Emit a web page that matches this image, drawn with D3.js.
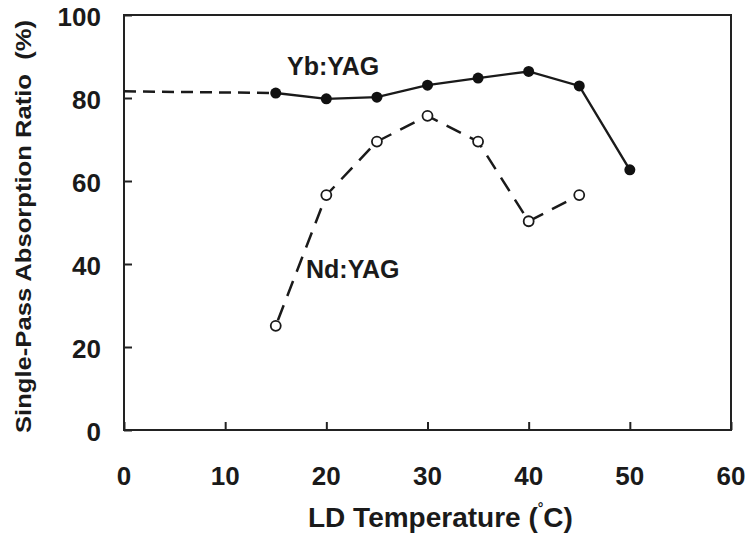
<!DOCTYPE html>
<html>
<head>
<meta charset="utf-8">
<script src="https://cdn.jsdelivr.net/npm/d3@7"></script>
<style>
  body { margin: 0; background: #fff; }
  svg text { font-family: "Liberation Sans", Arial, sans-serif; font-weight: bold; fill: #1a1a1a; }
</style>
</head>
<body>
<svg id="chart" width="745" height="537"></svg>
<script>
// data
const temps = [15, 20, 25, 30, 35, 40, 45, 50];
const ybValues = [81.2, 79.8, 80.2, 83.1, 84.8, 86.4, 82.9, 62.7];
const ndTemps = [15, 20, 25, 30, 35, 40, 45];
const ndValues = [25.1, 56.6, 69.5, 75.7, 69.5, 50.3, 56.6];
const ybExtrapolation = [[0, 81.6], [15, 81.2]];
const xTicks = [0, 10, 20, 30, 40, 50, 60];
const yTicks = [0, 20, 40, 60, 80, 100];

const svg = d3.select('#chart');
const pLeft = 124, pRight = 731, pTop = 15, pBottom = 430;

const x = d3.scaleLinear().domain([0, 60]).range([pLeft, pRight]);
const y = d3.scaleLinear().domain([0, 100]).range([pBottom, pTop]);

// frame
svg.append('rect')
  .attr('x', pLeft).attr('y', pTop)
  .attr('width', pRight - pLeft).attr('height', pBottom - pTop)
  .attr('fill', 'none').attr('stroke', '#222').attr('stroke-width', 2);

// axes, ticks pointing inward
const xAxis = svg.append('g').attr('transform', `translate(0,${pBottom})`)
  .call(d3.axisTop(x).tickValues(xTicks).tickSize(8).tickFormat(''));
const yAxis = svg.append('g').attr('transform', `translate(${pLeft},0)`)
  .call(d3.axisRight(y).tickValues(yTicks).tickSize(8).tickFormat(''));
[xAxis, yAxis].forEach(g => {
  g.select('.domain').remove();
  g.selectAll('line').attr('stroke', '#222').attr('stroke-width', 2);
});

// tick labels
svg.append('g').selectAll('text').data(xTicks).join('text')
  .attr('x', d => x(d)).attr('y', 485)
  .attr('text-anchor', 'middle').style('font-size', '26px')
  .text(d => d);
svg.append('g').selectAll('text').data(yTicks).join('text')
  .attr('x', 101).attr('y', d => y(d) + 11)
  .attr('text-anchor', 'end').style('font-size', '26px')
  .text(d => d);

// axis titles
const xt = svg.append('text').attr('x', 308).attr('y', 527)
  .style('font-size', '28px');
xt.append('tspan').text('LD Temperature (');
xt.append('tspan').attr('dy', -14).style('font-size', '14px').text('°');
xt.append('tspan').attr('dy', 14).text('C)');

svg.append('text')
  .attr('transform', 'translate(31,433) rotate(-90)')
  .style('font-size', '22px')
  .attr('xml:space', 'preserve')
  .attr('textLength', 413).attr('lengthAdjust', 'spacingAndGlyphs')
  .text('Single-Pass Absorption Ratio  (%)');

const line = d3.line().x(d => x(d[0])).y(d => y(d[1]));

// Yb:YAG dashed extrapolation
svg.append('path').datum(ybExtrapolation)
  .attr('d', line).attr('fill', 'none')
  .attr('stroke', '#1a1a1a').attr('stroke-width', 2.5)
  .attr('stroke-dasharray', '12,7');

// Yb:YAG solid
svg.append('path').datum(temps.map((t, i) => [t, ybValues[i]]))
  .attr('d', line).attr('fill', 'none')
  .attr('stroke', '#1a1a1a').attr('stroke-width', 2.4);
svg.append('g').selectAll('circle').data(temps).join('circle')
  .attr('cx', d => x(d)).attr('cy', (d, i) => y(ybValues[i])).attr('r', 5.5)
  .attr('fill', '#111');

// Nd:YAG dashed
svg.append('path').datum(ndTemps.map((t, i) => [t, ndValues[i]]))
  .attr('d', line).attr('fill', 'none')
  .attr('stroke', '#1a1a1a').attr('stroke-width', 2.5)
  .attr('stroke-dasharray', '16,10').attr('stroke-dashoffset', -6);
svg.append('g').selectAll('circle').data(ndTemps).join('circle')
  .attr('cx', d => x(d)).attr('cy', (d, i) => y(ndValues[i])).attr('r', 5)
  .attr('fill', '#fff').attr('stroke', '#1a1a1a').attr('stroke-width', 1.8);

// series labels
svg.append('text').attr('x', 287).attr('y', 75).style('font-size', '25px').text('Yb:YAG');
svg.append('text').attr('x', 306).attr('y', 278).style('font-size', '25px').text('Nd:YAG');
</script>
</body>
</html>
